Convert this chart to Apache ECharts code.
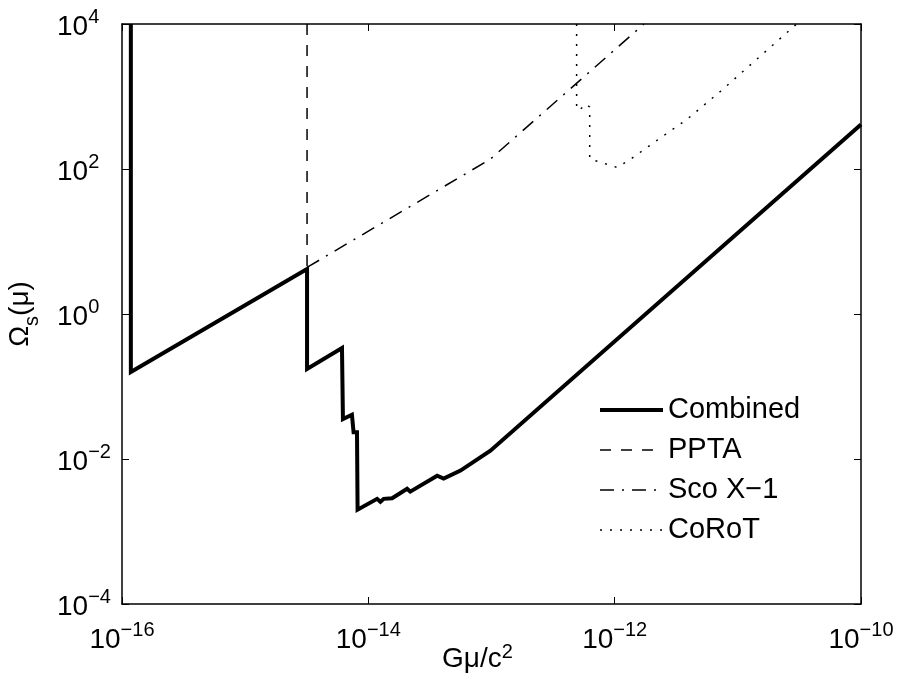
<!DOCTYPE html>
<html>
<head>
<meta charset="utf-8">
<script src="https://cdn.jsdelivr.net/npm/echarts@6/dist/echarts.min.js"></script>
<style>
  html, body { margin: 0; padding: 0; background: #fff; }
  #mychart { width: 900px; height: 684px; }
</style>
</head>
<body>
<div id="mychart"></div>
<script>
// values (log-log plot)
const combinedX = [1.18e-16, 1.18e-16, 3.18e-15, 3.18e-15, 6.11e-15, 6.22e-15, 7.36e-15, 7.59e-15, 8.09e-15, 8.18e-15,
  1.178e-14, 1.253e-14, 1.334e-14, 1.56e-14, 2.065e-14, 2.19e-14, 3.62e-14, 4.09e-14, 5.6e-14, 9.8e-14, 1e-10]
const combinedY = [1e4, 0.158, 4.17, 0.174, 0.339, 0.0355, 0.0407, 0.0234, 0.0234, 0.0020,
  0.00282, 0.00257, 0.00282, 0.00288, 0.00389, 0.00355, 0.00589, 0.00537, 0.00692, 0.01303, 412]
const pptaX = [3.18e-15, 3.18e-15]
const pptaY = [1e4, 4.4]
const scoX = [3.18e-15, 9.8e-14, 1.73e-12]
const scoY = [4.4, 137, 1e4]
const corotX = [4.91e-13, 4.91e-13, 5.13e-13, 5.81e-13, 6.27e-13, 6.27e-13, 7.69e-13, 1.05e-12, 1.35e-12, 2.09e-12, 3.9e-12, 7.28e-12, 3.0e-11]
const corotY = [1e4, 716, 637, 789, 716, 137, 124, 105, 137, 233, 490, 1191, 1e4]
const xRange = [1e-16, 1e-10]
const yRange = [1e-4, 1e4]

const font = "'Liberation Sans', Arial, Helvetica, sans-serif"
const pairs = (xs, ys) => xs.map((x, i) => [x, ys[i]])

function powLabel (value) {
  const e = Math.round(Math.log10(value))
  return '{b|10}{e|' + (e < 0 ? '\u2212' + (-e) : e) + '}'
}
const powRich = {
  b: { fontSize: 28, fontFamily: font, color: '#000', verticalAlign: 'bottom' },
  e: { fontSize: 20, fontFamily: font, color: '#000', verticalAlign: 'bottom', padding: [0, 0, 14, 0] }
}

const mychart = echarts.init(document.getElementById('mychart'))
window.onresize = function () {
  mychart.resize()
}

const tick = { show: true, inside: true, length: 7, lineStyle: { color: '#000', width: 1 } }
const line = { show: true, onZero: false, lineStyle: { color: '#000', width: 1.5 } }

mychart.setOption({
  animation: false,
  backgroundColor: '#fff',
  grid: { left: 122, right: 39, top: 24, bottom: 80, containLabel: false, outerBoundsMode: 'none' },
  legend: {
    orient: 'vertical',
    left: 593,
    top: 390,
    itemWidth: 63,
    itemHeight: 14,
    itemGap: 10,
    selectedMode: false,
    itemStyle: { opacity: 0 },
    lineStyle: { width: 'inherit' },
    textStyle: { fontSize: 29, fontFamily: font, color: '#000', lineHeight: 30 },
    data: ['Combined', 'PPTA', 'Sco X\u22121', 'CoRoT']
  },
  xAxis: [{
    type: 'log',
    min: xRange[0],
    max: xRange[1],
    interval: 2,
    axisLine: line,
    axisTick: tick,
    splitLine: { show: false },
    axisLabel: { formatter: powLabel, rich: powRich, margin: 16 },
    name: 'G\u03bc/c{s|2}',
    nameLocation: 'middle',
    nameGap: 38,
    nameMoveOverlap: false,
    nameTextStyle: {
      fontSize: 28,
      fontFamily: font,
      color: '#000',
      padding: [0, 28, 0, 0],
      rich: { s: { fontSize: 20, fontFamily: font, color: '#000', padding: [0, 0, 14, 0] } }
    }
  }, {
    type: 'log',
    position: 'top',
    min: xRange[0],
    max: xRange[1],
    interval: 2,
    axisLine: line,
    axisTick: tick,
    axisLabel: { show: false },
    splitLine: { show: false }
  }],
  yAxis: [{
    type: 'log',
    min: yRange[0],
    max: yRange[1],
    interval: 2,
    axisLine: line,
    axisTick: tick,
    splitLine: { show: false },
    axisLabel: { formatter: powLabel, rich: powRich, align: 'left', margin: 65 },
    name: '{n|\u03a9}{s|s}{n|(\u03bc)}',
    nameLocation: 'middle',
    nameRotate: 90,
    nameGap: 80,
    nameMoveOverlap: false,
    nameTextStyle: {
      fontSize: 28,
      fontFamily: font,
      color: '#000',
      rich: {
        n: { fontSize: 28, fontFamily: font, color: '#000', verticalAlign: 'top' },
        s: { fontSize: 20, fontFamily: font, color: '#000', verticalAlign: 'top', padding: [16, 0, 0, 0] }
      }
    }
  }, {
    type: 'log',
    position: 'right',
    min: yRange[0],
    max: yRange[1],
    interval: 2,
    axisLine: line,
    axisTick: tick,
    axisLabel: { show: false },
    splitLine: { show: false }
  }],
  series: [{
    name: 'Combined',
    type: 'line',
    data: pairs(combinedX, combinedY),
    symbol: 'none',
    lineStyle: { color: '#000', width: 4, join: 'miter' },
    itemStyle: { color: '#000' }
  }, {
    name: 'PPTA',
    type: 'line',
    data: pairs(pptaX, pptaY),
    symbol: 'none',
    lineStyle: { color: '#000', width: 1.5, type: [11, 10] },
    itemStyle: { color: '#000' }
  }, {
    name: 'Sco X\u22121',
    type: 'line',
    data: pairs(scoX, scoY),
    symbol: 'none',
    lineStyle: { color: '#000', width: 1.5, type: [14, 8, 2, 8] },
    itemStyle: { color: '#000' }
  }, {
    name: 'CoRoT',
    type: 'line',
    data: pairs(corotX, corotY),
    symbol: 'none',
    lineStyle: { color: '#000', width: 1.5, type: [2, 8] },
    itemStyle: { color: '#000' }
  }]
})
</script>
</body>
</html>
